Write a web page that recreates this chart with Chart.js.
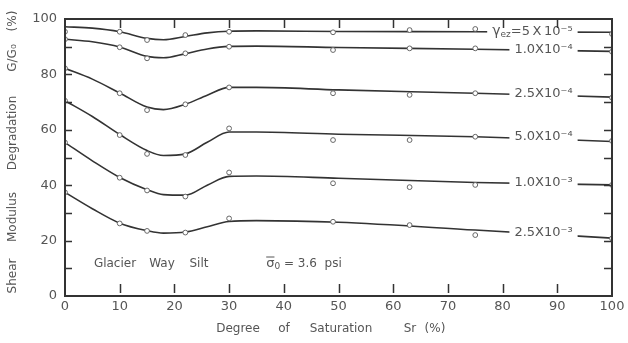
<!DOCTYPE html>
<html>
<head>
<meta charset="utf-8">
<script src="https://cdn.jsdelivr.net/npm/chart.js@4/dist/chart.umd.min.js"></script>
<style>
html, body { margin: 0; background: #fff; }
</style>
</head>
<body>
<canvas id="chart" width="628" height="343"></canvas>
<script>
// degree of saturation of the tested specimens (%)
const satTested = [0, 10, 15, 22, 30, 49, 63, 75, 100];
// points the hand-drawn curves pass through
const satCurve = [0, 5, 10, 15, 18, 22, 26, 30, 35, 50, 75, 100];

// G/G0 (%) measured, one list per strain level
const tested5e5 = [95.4, 95.4, 92.4, 94.2, 95.4, 95.2, 96.0, 96.4, 94.6];
const tested1e4 = [92.7, 89.8, 85.8, 87.6, 90.0, 88.8, 89.4, 89.4, 88.2];
const tested25e4 = [82.2, 73.2, 67.1, 69.2, 75.3, 73.2, 72.6, 73.2, 71.6];
const tested5e4 = [70.5, 58.1, 51.3, 50.9, 60.5, 56.3, 56.3, 57.5, 56.0];
const tested1e3 = [55.4, 42.7, 38.1, 35.9, 44.6, 40.7, 39.3, 40.1, 40.1];
const tested25e3 = [37.4, 26.2, 23.5, 22.9, 28.0, 26.8, 25.6, 22.0, 20.8];

// G/G0 (%) of the fitted curves
const curve5e5 = [97.2, 96.7, 95.4, 93.0, 92.5, 93.7, 95.0, 95.6, 95.7, 95.5, 95.4, 95.2];
const curve1e4 = [92.7, 91.8, 89.9, 86.5, 86.0, 87.5, 89.2, 90.1, 90.2, 89.7, 89.1, 88.3];
const curve25e4 = [82.2, 78.3, 73.3, 68.2, 67.3, 69.2, 72.5, 75.3, 75.3, 74.4, 73.2, 71.8];
const curve5e4 = [70.5, 64.8, 58.3, 52.5, 50.7, 51.3, 55.5, 59.2, 59.2, 58.4, 57.5, 55.8];
const curve1e3 = [55.4, 48.8, 42.8, 38.4, 36.6, 36.4, 40.0, 43.2, 43.3, 42.5, 41.0, 40.1];
const curve25e3 = [37.4, 31.5, 26.3, 23.6, 22.7, 23.1, 25.0, 26.9, 27.2, 26.6, 23.8, 20.9];

const strainLabels = ["=5\u2009X\u200910⁻⁵", "1.0X10⁻⁴", "2.5X10⁻⁴", "5.0X10⁻⁴", "1.0X10⁻³", "2.5X10⁻³"];
const xTicks = [0, 10, 20, 30, 40, 50, 60, 70, 80, 90, 100];
const yTicks = [0, 20, 40, 60, 80, 100];

const testedSets = [tested5e5, tested1e4, tested25e4, tested5e4, tested1e3, tested25e3];
const curveSets = [curve5e5, curve1e4, curve25e4, curve5e4, curve1e3, curve25e3];

const ink = "#333";
const textInk = "#555";
const fontName = '"DejaVu Sans"';

function toPoints(xs, ys) {
    return xs.map((x, i) => ({x: x, y: ys[i]}));
}

let datasets = [];
curveSets.forEach(ys => {
    datasets.push({
        data: toPoints(satCurve, ys),
        showLine: true,
        borderColor: ink,
        borderWidth: 1.6,
        pointRadius: 0,
        cubicInterpolationMode: "monotone",
        order: 2
    });
});
testedSets.forEach(ys => {
    datasets.push({
        data: toPoints(satTested, ys),
        showLine: false,
        pointRadius: 2.4,
        pointBorderWidth: 1,
        pointBackgroundColor: "#fff",
        pointBorderColor: "#666",
        order: 1
    });
});

// draws a run of text pieces; anchor "right" puts the end of the run at x
function drawPieces(ctx, pieces, x0, cy, anchor, clear) {
    let w = 0;
    pieces.forEach(p => {
        ctx.font = p.size + "px " + fontName;
        p.w = ctx.measureText(p.t).width;
        w += p.w;
    });
    let x = anchor == "right" ? x0 - w : x0 - w / 2;
    if (clear) {
        ctx.fillStyle = "#fff";
        ctx.fillRect(x - 5, cy - 7, w + 10, 14);
    }
    ctx.fillStyle = textInk;
    ctx.textAlign = "left";
    ctx.textBaseline = "middle";
    pieces.forEach(p => {
        ctx.font = p.size + "px " + fontName;
        ctx.fillText(p.t, x, cy + (p.dy || 0));
        if (p.bar) {
            ctx.strokeStyle = textInk;
            ctx.lineWidth = 1;
            ctx.beginPath();
            ctx.moveTo(x, cy - 7);
            ctx.lineTo(x + p.w, cy - 7);
            ctx.stroke();
        }
        x += p.w;
    });
}

const decorations = {
    id: "decorations",
    afterDraw(chart) {
        let ctx = chart.ctx;
        let xs = chart.scales.x, ys = chart.scales.y;
        let a = chart.chartArea;
        ctx.save();
        ctx.setLineDash([]);

        // strain labels breaking the curves
        let labelY = [95.5, 89.0, 73.0, 57.4, 41.0, 23.0];
        let labelEnd = xs.getPixelForValue(92.8);
        strainLabels.forEach((t, i) => {
            let pieces = [];
            if (i == 0) {
                pieces.push({t: "γ", size: 14});
                pieces.push({t: "ez", size: 9, dy: 3});
            }
            pieces.push({t: t, size: 13});
            drawPieces(ctx, pieces, labelEnd, ys.getPixelForValue(labelY[i]), "right", true);
        });

        // box round the plot, snapped to whole pixels
        let L = Math.round(a.left), R = Math.round(a.right);
        let T = Math.round(a.top), B = Math.round(a.bottom);
        ctx.strokeStyle = ink;
        ctx.lineWidth = 2;
        ctx.beginPath();
        ctx.moveTo(L, T);
        ctx.lineTo(R, T);
        ctx.lineTo(R, B);
        ctx.lineTo(L, B);
        ctx.closePath();
        ctx.stroke();

        // inward ticks
        ctx.lineWidth = 1.5;
        ctx.beginPath();
        for (let v = 10; v < 100; v += 10) {
            let px = Math.round(xs.getPixelForValue(v)) + 0.5;
            ctx.moveTo(px, B - 3);
            ctx.lineTo(px, B - 12);
            ctx.moveTo(px, T);
            ctx.lineTo(px, T + 9);
            let py = Math.round(ys.getPixelForValue(v)) + 0.5;
            ctx.moveTo(L, py);
            ctx.lineTo(L + 7, py);
            ctx.moveTo(R, py);
            ctx.lineTo(R - 8, py);
        }
        ctx.stroke();

        // notes inside the plot
        ctx.fillStyle = textInk;
        ctx.font = "12px " + fontName;
        ctx.textAlign = "center";
        ctx.textBaseline = "middle";
        ctx.fillText("Glacier", 115, 264);
        ctx.fillText("Way", 162, 264);
        ctx.fillText("Silt", 199, 264);
        drawPieces(ctx, [
            {t: "σ", size: 13, bar: true},
            {t: "0", size: 9, dy: 3},
            {t: " = 3.6  psi", size: 12}
        ], 304, 264, "center", false);

        // axis titles
        ctx.fillStyle = textInk;
        ctx.font = "12px " + fontName;
        ctx.textAlign = "center";
        ctx.textBaseline = "middle";
        [["Degree", 238], ["of", 284], ["Saturation", 341], ["Sr", 410], ["(%)", 435]].forEach(w => {
            ctx.fillText(w[0], w[1], 329);
        });
        [["Shear", 276], ["Modulus", 217], ["Degradation", 133], ["G/G₀", 58], ["(%)", 21]].forEach(w => {
            ctx.save();
            ctx.translate(13, w[1]);
            ctx.rotate(-Math.PI / 2);
            ctx.fillText(w[0], 0, 0);
            ctx.restore();
        });
        ctx.restore();
    }
};

new Chart(document.getElementById("chart").getContext("2d"), {
    type: "scatter",
    data: {datasets: datasets},
    options: {
        responsive: false,
        animation: false,
        layout: {padding: {top: 19, right: 16, left: 0, bottom: 0}},
        plugins: {legend: {display: false}, tooltip: {enabled: false}},
        scales: {
            x: {
                type: "linear", min: 0, max: 100,
                afterFit: s => { s.height = 47; },
                afterBuildTicks: s => { s.ticks = xTicks.map(v => ({value: v})); },
                grid: {display: false, drawTicks: false},
                border: {display: false},
                ticks: {color: textInk, font: {family: "DejaVu Sans", size: 13}, padding: 3, maxRotation: 0}
            },
            y: {
                type: "linear", min: 0, max: 100,
                afterFit: s => { s.width = 65; },
                afterBuildTicks: s => { s.ticks = yTicks.map(v => ({value: v})); },
                grid: {display: false, drawTicks: false},
                border: {display: false},
                ticks: {color: textInk, font: {family: "DejaVu Sans", size: 13}, padding: 8}
            }
        }
    },
    plugins: [decorations]
});
</script>
</body>
</html>
